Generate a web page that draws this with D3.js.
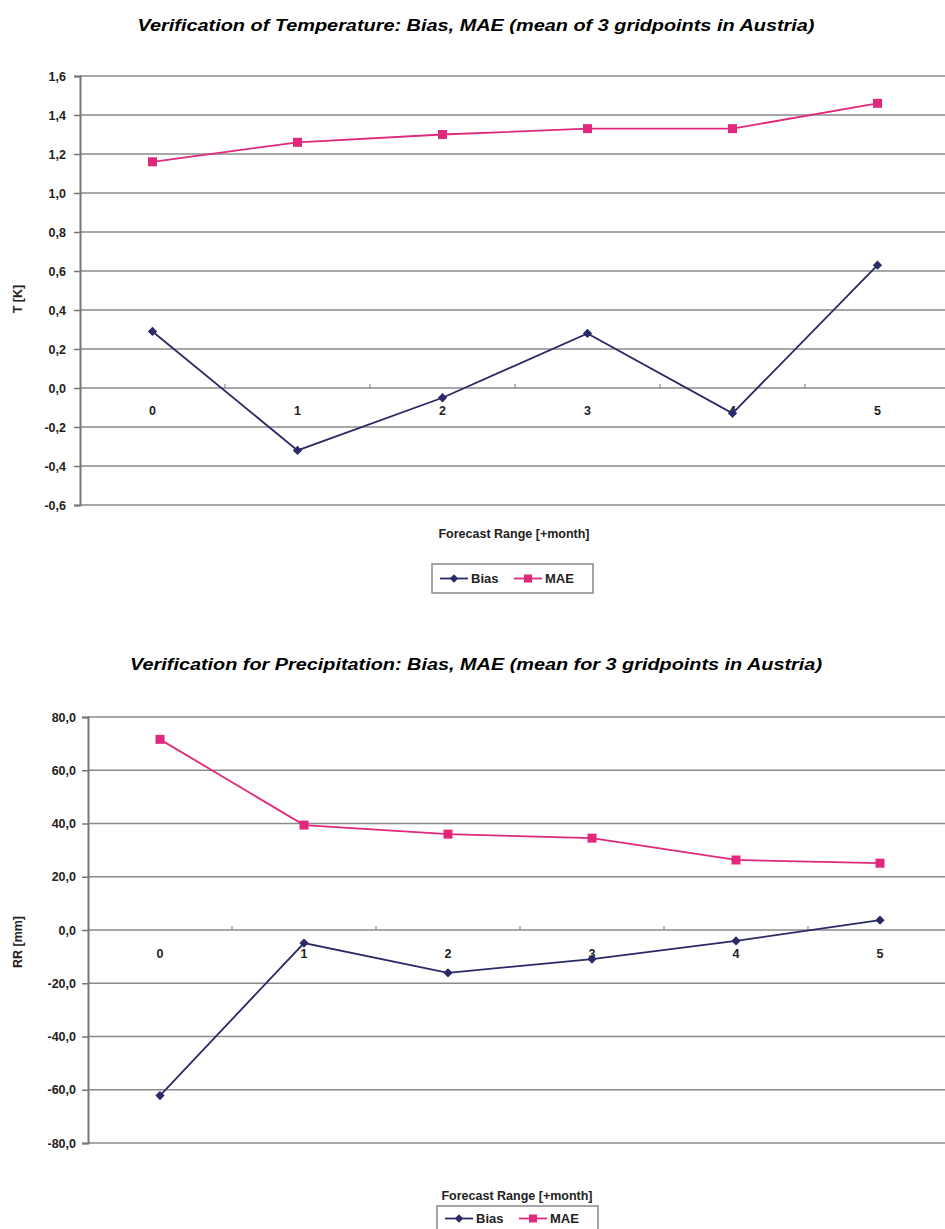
<!DOCTYPE html>
<html>
<head>
<meta charset="utf-8">
<script src="https://cdn.jsdelivr.net/npm/d3@7"></script>
<style>
  body { margin: 0; background: #fff; }
  svg { font-family: "Liberation Sans", Arial, sans-serif; }
</style>
</head>
<body>
<svg id="chart" width="945" height="1229"></svg>
<script>
// Data
// ==============================
var months = ["0", "1", "2", "3", "4", "5"];

var tempBias = [0.29, -0.32, -0.05, 0.28, -0.13, 0.63];
var tempMae = [1.16, 1.26, 1.30, 1.33, 1.33, 1.46];
var tempTicks = [-0.6, -0.4, -0.2, 0.0, 0.2, 0.4, 0.6, 0.8, 1.0, 1.2, 1.4, 1.6];

var precBias = [-62.2, -4.9, -16.1, -10.9, -4.1, 3.7];
var precMae = [71.6, 39.4, 36.0, 34.5, 26.3, 25.1];
var precTicks = [-80, -60, -40, -20, 0, 20, 40, 60, 80];

var biasColor = "#2a2a66";
var maeColor = "#e0287c";

var svg = d3.select("#chart");

// comma decimal and plain hyphen minus, like the original
var fmt = function(v) {
  return d3.format(".1f")(v).replace(".", ",").replace("\u2212", "-");
};

function drawChart(cfg) {
  var g = svg.append("g");

  var x = d3.scaleBand()
    .domain(months)
    .range([cfg.left, cfg.right]);

  var y = d3.scaleLinear()
    .domain(d3.extent(cfg.ticks))
    .range([cfg.bottom, cfg.top]);

  // Title
  g.append("text")
    .attr("x", cfg.titleX)
    .attr("y", cfg.titleY)
    .attr("text-anchor", "middle")
    .attr("font-size", 16)
    .attr("font-weight", "bold")
    .attr("font-style", "italic")
    .attr("textLength", cfg.titleLen)
    .attr("lengthAdjust", "spacingAndGlyphs")
    .text(cfg.title);

  // Gridlines
  g.selectAll("line.grid")
    .data(cfg.ticks)
    .join("line")
    .attr("class", "grid")
    .attr("x1", cfg.left)
    .attr("x2", 945)
    .attr("y1", d => y(d))
    .attr("y2", d => y(d))
    .attr("stroke", "#8a8a8a")
    .attr("stroke-width", 1.6);

  // Y axis
  var yAxis = d3.axisLeft(y)
    .tickValues(cfg.ticks)
    .tickFormat(fmt)
    .tickSize(6)
    .tickPadding(cfg.tickPad);

  var ya = g.append("g")
    .attr("transform", `translate(${cfg.left},0)`)
    .call(yAxis);
  ya.select(".domain").attr("stroke", "#777").attr("stroke-width", 2);
  ya.selectAll(".tick line").attr("stroke", "#777").attr("stroke-width", 1.5);
  ya.selectAll(".tick text")
    .attr("font-size", 12.5)
    .attr("font-weight", "bold")
    .attr("fill", "#222")
    .attr("font-family", "Liberation Sans, Arial, sans-serif");

  // Small ticks between categories on the zero line
  var bounds = months.slice(1).map(m => x(m));
  g.selectAll("line.xtick")
    .data(bounds)
    .join("line")
    .attr("class", "xtick")
    .attr("x1", d => d)
    .attr("x2", d => d)
    .attr("y1", y(0))
    .attr("y2", y(0) - 4)
    .attr("stroke", "#777")
    .attr("stroke-width", 1);

  // Category labels below the zero line
  g.selectAll("text.cat")
    .data(months)
    .join("text")
    .attr("class", "cat")
    .attr("x", d => x(d) + x.bandwidth() / 2)
    .attr("y", y(0) + cfg.catDy)
    .attr("text-anchor", "middle")
    .attr("font-size", 12.5)
    .attr("font-weight", "bold")
    .attr("fill", "#222")
    .text(d => d);

  var line = d3.line()
    .x((d, i) => x(months[i]) + x.bandwidth() / 2)
    .y(d => y(d));

  // MAE series
  g.append("path")
    .datum(cfg.mae)
    .attr("fill", "none")
    .attr("stroke", maeColor)
    .attr("stroke-width", 1.8)
    .attr("d", line);

  g.selectAll("rect.mae")
    .data(cfg.mae)
    .join("rect")
    .attr("class", "mae")
    .attr("x", (d, i) => x(months[i]) + x.bandwidth() / 2 - 4.5)
    .attr("y", d => y(d) - 4.5)
    .attr("width", 9)
    .attr("height", 9)
    .attr("fill", maeColor);

  // Bias series
  g.append("path")
    .datum(cfg.bias)
    .attr("fill", "none")
    .attr("stroke", biasColor)
    .attr("stroke-width", 1.8)
    .attr("d", line);

  g.selectAll("path.bias")
    .data(cfg.bias)
    .join("path")
    .attr("class", "bias")
    .attr("transform", (d, i) => `translate(${x(months[i]) + x.bandwidth() / 2},${y(d)})`)
    .attr("d", d3.symbol(d3.symbolDiamond2, 55))
    .attr("fill", biasColor);

  // Axis labels
  g.append("text")
    .attr("transform", `translate(${cfg.yLabelX},${cfg.yLabelY}) rotate(-90)`)
    .attr("text-anchor", "middle")
    .attr("font-size", 12.5)
    .attr("font-weight", "bold")
    .attr("fill", "#222")
    .text(cfg.yLabel);

  g.append("text")
    .attr("x", cfg.xLabelX)
    .attr("y", cfg.xLabelY)
    .attr("text-anchor", "middle")
    .attr("font-size", 12.5)
    .attr("font-weight", "bold")
    .attr("fill", "#222")
    .text("Forecast Range [+month]");

  // Legend
  var lg = g.append("g")
    .attr("transform", `translate(${cfg.legX},${cfg.legY})`);

  lg.append("rect")
    .attr("width", 161)
    .attr("height", cfg.legH)
    .attr("fill", "#fff")
    .attr("stroke", "#888")
    .attr("stroke-width", 1.5);

  var items = [
    {name: "Bias", color: biasColor, shape: "diamond", x: 8},
    {name: "MAE", color: maeColor, shape: "square", x: 82}
  ];

  var my = cfg.legH / 2;
  items.forEach(function(it) {
    lg.append("line")
      .attr("x1", it.x).attr("x2", it.x + 28)
      .attr("y1", my).attr("y2", my)
      .attr("stroke", it.color)
      .attr("stroke-width", 1.8);
    if (it.shape === "square") {
      lg.append("rect")
        .attr("x", it.x + 10).attr("y", my - 4)
        .attr("width", 8).attr("height", 8)
        .attr("fill", it.color);
    } else {
      lg.append("path")
        .attr("transform", `translate(${it.x + 14},${my})`)
        .attr("d", d3.symbol(d3.symbolDiamond2, 45))
        .attr("fill", it.color);
    }
    lg.append("text")
      .attr("x", it.x + 31)
      .attr("y", my + 4.5)
      .attr("font-size", 13)
      .attr("font-weight", "bold")
      .attr("fill", "#222")
      .text(it.name);
  });
}

// Temperature chart
drawChart({
  title: "Verification of Temperature: Bias, MAE (mean of 3 gridpoints in Austria)",
  titleX: 476, titleY: 31, titleLen: 677,
  left: 80, right: 950, top: 76, bottom: 505,
  ticks: tempTicks, tickPad: 8, catDy: 27,
  bias: tempBias, mae: tempMae,
  yLabel: "T [K]", yLabelX: 22, yLabelY: 299,
  xLabelX: 514, xLabelY: 538,
  legX: 432, legY: 564, legH: 29
});

// Precipitation chart
drawChart({
  title: "Verification for Precipitation: Bias, MAE (mean for 3 gridpoints in Austria)",
  titleX: 476, titleY: 670, titleLen: 692,
  left: 88, right: 952, top: 717, bottom: 1143,
  ticks: precTicks, tickPad: 6, catDy: 28,
  bias: precBias, mae: precMae,
  yLabel: "RR [mm]", yLabelX: 22, yLabelY: 942,
  xLabelX: 517, xLabelY: 1200,
  legX: 437, legY: 1206, legH: 25
});
</script>
</body>
</html>
